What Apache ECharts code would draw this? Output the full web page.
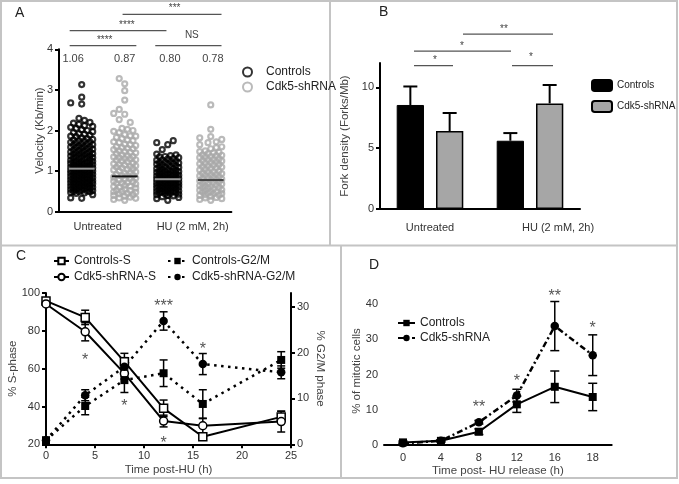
<!DOCTYPE html>
<html><head><meta charset="utf-8">
<script src="https://cdn.jsdelivr.net/npm/echarts@6/dist/echarts.min.js"></script>
<style>html,body{margin:0;padding:0;background:#fff}#c{width:679px;height:484px}</style>
</head><body><div id="c"></div>
<script>
// ================= DATA =================
// Panel A: fork velocity (Kb/min), one value per measured fork
const aCtrlUntreated = [0.33,0.34,0.42,0.45,0.47,0.5,0.5,0.52,0.53,0.55,0.56,0.58,0.6,0.6,0.62,0.63,0.65,0.66,0.68,0.7,0.7,0.72,0.74,0.75,0.77,0.78,0.8,0.8,0.82,0.84,0.85,0.87,0.88,0.9,0.9,0.92,0.94,0.95,0.97,0.98,1.0,1.0,1.02,1.03,1.05,1.06,1.08,1.1,1.1,1.12,1.14,1.15,1.17,1.18,1.2,1.22,1.24,1.25,1.27,1.3,1.32,1.34,1.36,1.38,1.4,1.42,1.44,1.46,1.48,1.5,1.52,1.55,1.57,1.6,1.62,1.65,1.68,1.7,1.72,1.75,1.78,1.8,1.85,1.88,1.92,1.95,2.0,2.05,2.08,2.1,2.12,2.15,2.18,2.2,2.25,2.3,2.65,2.68,2.82,3.13,
  0.46,0.49,0.51,0.54,0.59,0.61,0.64,0.67,0.71,0.73,0.76,0.79,0.83,0.86,0.89,0.93,0.96,0.99,1.01,1.04,1.07,1.11,1.13,1.16,1.19,1.21,1.23,1.26,1.29,1.31,1.35,1.37,1.41,1.43,1.47,1.51,1.54,1.58,1.61,1.64,1.67,1.71,1.74,1.77,1.82,1.86,1.91,1.97,2.02,0.57,0.69,0.81,0.91,1.09,1.19,1.33,1.45,1.59,0.74,0.96];
const aShUntreated = [0.28,0.3,0.33,0.36,0.38,0.4,0.42,0.45,0.48,0.5,0.52,0.55,0.58,0.6,0.62,0.65,0.68,0.7,0.72,0.75,0.78,0.8,0.82,0.85,0.88,0.9,0.92,0.95,0.98,1.0,1.03,1.05,1.08,1.1,1.13,1.15,1.18,1.2,1.23,1.25,1.28,1.3,1.33,1.35,1.38,1.4,1.43,1.45,1.48,1.5,1.53,1.55,1.58,1.6,1.63,1.65,1.7,1.72,1.75,1.8,1.83,1.87,1.9,1.95,1.98,2.0,2.03,2.05,2.2,2.27,2.4,2.42,2.52,2.75,2.98,3.15,3.28,
  0.34,0.44,0.53,0.63,0.74,0.83,0.94,1.06,1.16,1.27,1.36,1.46,1.56,1.66,1.77,1.86,0.49,0.71,0.89,1.11,1.31];
const aCtrlHU = [0.28,0.32,0.35,0.37,0.4,0.42,0.43,0.45,0.47,0.48,0.5,0.5,0.52,0.53,0.55,0.56,0.58,0.6,0.6,0.62,0.63,0.65,0.66,0.68,0.7,0.7,0.72,0.73,0.75,0.76,0.78,0.8,0.8,0.82,0.83,0.85,0.86,0.88,0.9,0.9,0.92,0.94,0.95,0.97,1.0,1.0,1.02,1.05,1.07,1.1,1.12,1.15,1.18,1.2,1.22,1.25,1.28,1.3,1.33,1.35,1.38,1.4,1.42,1.53,1.65,1.7,1.75,
  0.39,0.44,0.49,0.51,0.57,0.61,0.64,0.69,0.71,0.77,0.79,0.84,0.87,0.91,0.96,0.99,1.04,1.09,1.11,1.17,1.21,1.24,1.31,1.36,0.46,0.59,0.67,0.74,0.81,0.93,1.01,1.13,0.54,0.64,0.72,0.85,0.98,1.06,1.19,1.27];
const aShHU = [0.28,0.3,0.32,0.35,0.38,0.4,0.42,0.44,0.46,0.48,0.5,0.52,0.54,0.56,0.58,0.6,0.62,0.64,0.66,0.68,0.7,0.72,0.74,0.76,0.78,0.8,0.82,0.84,0.86,0.88,0.9,0.92,0.95,0.98,1.0,1.03,1.05,1.08,1.1,1.13,1.15,1.18,1.2,1.23,1.25,1.28,1.3,1.33,1.35,1.38,1.4,1.43,1.45,1.48,1.5,1.55,1.6,1.65,1.7,1.72,1.78,1.82,1.85,2.03,2.63,
  0.34,0.45,0.53,0.63,0.73,0.85,0.94,1.06,1.16,1.26,1.36,1.46,0.49,0.69,0.91,1.11,1.29,0.41,0.59,0.79,0.99,1.21,1.39,1.58];
const aMeans = [1.06, 0.87, 0.80, 0.78];
const aTreatments = ['Untreated', 'HU (2 mM, 2h)'];
const aSigLabels = ['****', '****', '***', 'NS'];

// Panel B: fork density (Forks/Mb)
const bCategories = ['Untreated', 'HU (2 mM, 2h)'];
const bControls = [8.55, 5.61];
const bControlsSD = [1.52, 0.63];
const bShRNA = [6.41, 8.68];
const bShRNASD = [1.48, 1.51];
const bSigLabels = ['*', '*', '**', '*'];

// Panel C: % S-phase (left) and % G2/M (right) vs time post-HU
const cTime = [0, 4, 8, 12, 16, 24];
const cCtrlS = [95.8, 87.1, 63.7, 39.0, 24.0, 34.5];
const cCtrlSErr = [1.0, 3.8, 4.4, 4.4, 0.8, 3.0];
const cShS = [94.2, 79.5, 57.5, 32.3, 29.8, 32.0];
const cShSErr = [1.0, 4.8, 3.0, 3.1, 3.8, 5.5];
const cCtrlG = [0.9, 8.35, 14.0, 15.5, 8.8, 18.4];
const cCtrlGErr = [0.3, 1.9, 2.7, 2.9, 3.1, 1.8];
const cShG = [0.9, 10.7, 16.9, 26.9, 17.5, 15.7];
const cShGErr = [0.3, 1.2, 2.0, 2.0, 2.3, 1.4];
const cSigLabels = ['***', '*', '*', '*', '*'];

// Panel D: % mitotic cells vs time post-HU release
const dTimes = ['0', '4', '8', '12', '16', '18'];
const dCtrl = [0.66, 1.1, 3.7, 11.5, 16.5, 13.6];
const dCtrlErr = [0.4, 0.3, 0.8, 2.3, 4.5, 3.9];
const dSh = [0.4, 1.1, 6.4, 14.0, 33.8, 25.5];
const dShErr = [0.3, 0.3, 0.5, 1.8, 7.0, 5.8];
const dSigLabels = ['**', '*', '**', '*'];

// ================= LAYOUT (annotation placement) =================
const aBracketPos = [[0.72,2.27,4.09,1.535,4.28],[0.72,2.97,4.46,2.05,4.65],[1.95,4.25,4.86,3.16,5.07],[2.71,4.25,4.09,3.56,4.35]];
const aMeanLabelX = [0.8, 2.0, 3.05, 4.05];
const aMeanLabelY = 3.76;
const aTreatmentX = [1.37, 3.58];
const bBracketPos = [[0.34,0.73,11.78,0.55,12.38],[0.34,1.31,12.98,0.82,13.6],[0.83,1.73,14.38,1.24,14.98],[1.32,1.73,11.78,1.51,12.65]];
const cSigPos = [[12,94.7],[4,66.2],[8,41.8],[12,22.3],[16,72]];
const dSigPos = [[2,11.6],[3,19],[4,43.2],[5,34.1]];

const FONT = 'Liberation Sans, Arial, sans-serif';
const strip = n => n.slice(2);

// beeswarm placement (pixel-based offsets converted to axis units)
function swarm(values, center) {
  const pxX = 43, pxY = 40.6, d = 6.8;
  const slots = [0, -5.5, 5.5, -11, 11, -2.75, 2.75, -8.25, 8.25];
  const placed = [];
  return values.slice().sort((a, b) => a - b).map(v => {
    const y = v * pxY;
    let best = 0, bestDist = -1;
    for (const s of slots) {
      let nd = Infinity;
      for (const p of placed) {
        if (Math.abs(p[1] - y) < 2 * d) { const dist = Math.hypot(p[0] - s, p[1] - y); if (dist < nd) nd = dist; }
      }
      if (nd >= d) { best = s; break; }
      if (nd > bestDist) { bestDist = nd; best = s; }
    }
    placed.push([best, y]);
    return [center + best / pxX, v];
  });
}

const axLine = {lineStyle: {color: '#000', width: 2}};
const axTick = {length: 4, lineStyle: {color: '#000', width: 2}};
const axLabel = {color: '#333', fontSize: 11, fontFamily: FONT, margin: 6};
const nameStyle = {color: '#444', fontSize: 11.5, fontFamily: FONT};

function errBars(capW, upOnly) {
  return (params, api) => {
    const x = api.value(0), m = api.value(1), e = api.value(2);
    const top = api.coord([x, m + e]);
    const bot = api.coord(upOnly ? [x, m] : [x, m - e]);
    const st = {stroke: '#000', lineWidth: upOnly ? 2 : 1.5};
    const ch = [
      {type: 'line', shape: {x1: top[0], y1: top[1], x2: bot[0], y2: bot[1]}, style: st},
      {type: 'line', shape: {x1: top[0] - capW / 2, y1: top[1], x2: top[0] + capW / 2, y2: top[1]}, style: st}
    ];
    if (!upOnly) ch.push({type: 'line', shape: {x1: bot[0] - capW / 2, y1: bot[1], x2: bot[0] + capW / 2, y2: bot[1]}, style: st});
    return {type: 'group', children: ch};
  };
}

function starText(text, p, fs, color) {
  return {type: 'text', style: {text: text, x: p[0], y: p[1] + fs * 0.23, textAlign: 'center', textVerticalAlign: 'middle', fontSize: fs, fontFamily: FONT, fill: color}};
}

function bracketRender(labels, fs) {
  return (params, api) => {
    const b = params.dataIndex;
    const p1 = api.coord([api.value(0), api.value(2)]);
    const p2 = api.coord([api.value(1), api.value(2)]);
    const t = api.coord([api.value(3), api.value(4)]);
    const lab = labels[b];
    const isStar = lab.indexOf('*') >= 0;
    return {type: 'group', children: [
      {type: 'line', shape: {x1: p1[0], y1: p1[1], x2: p2[0], y2: p2[1]}, style: {stroke: '#555', lineWidth: 1.3}},
      isStar ? starText(lab, t, fs, '#444') :
        {type: 'text', style: {text: lab, x: t[0], y: t[1], textAlign: 'center', textVerticalAlign: 'middle', fontSize: 10, fontFamily: FONT, fill: '#444'}}
    ]};
  };
}

const chart = echarts.init(document.getElementById('c'), null, {renderer: 'canvas'});
const meanColors = ['#9a9a9a', '#111', '#9a9a9a', '#444'];

// B bar geometry in band units for error bars
const bCatGap = 0.334, bBarGap = 0.44;
const bW = (1 - bCatGap) / (2 + bBarGap);
const bOff = bW * (1 + bBarGap) / 2;

const legendBase = {orient: 'vertical', selectedMode: false, padding: 0, formatter: strip};

const option = {
  animation: false,
  textStyle: {fontFamily: FONT},
  grid: [
    {left: 59, top: 49.3, width: 172.4, height: 162.4},
    {left: 380, top: 63, width: 200, height: 146},
    {left: 46, top: 293, width: 245, height: 151.3},
    {left: 384, top: 297.3, width: 227.7, height: 147.4}
  ],
  xAxis: [
    {gridIndex: 0, type: 'value', min: 0.472, max: 4.48, axisLine: axLine, axisTick: {show: false}, axisLabel: {show: false}, splitLine: {show: false}},
    {gridIndex: 1, type: 'category', data: [{value: bCategories[0]}, {value: bCategories[1], textStyle: {padding: [0, 0, 0, 56]}}],
      axisLine: axLine, axisTick: {show: false}, axisLabel: Object.assign({}, axLabel, {margin: 13})},
    {gridIndex: 1, type: 'value', min: 0, max: 2, show: false},
    {gridIndex: 2, type: 'value', min: 0, max: 25, interval: 5, axisLine: axLine, axisTick: axTick, axisLabel: axLabel, splitLine: {show: false},
      name: 'Time post-HU (h)', nameLocation: 'middle', nameGap: 20, nameMoveOverlap: false, nameTextStyle: nameStyle},
    {gridIndex: 3, type: 'category', data: dTimes, boundaryGap: true, axisLine: axLine, axisTick: Object.assign({alignWithLabel: true}, axTick),
      axisLabel: Object.assign({}, axLabel, {margin: 8}), name: 'Time post- HU release (h)', nameLocation: 'middle', nameGap: 20, nameMoveOverlap: false, nameTextStyle: nameStyle}
  ],
  yAxis: [
    {gridIndex: 0, type: 'value', min: 0, max: 4, interval: 1, axisLine: axLine, axisTick: axTick, axisLabel: axLabel, splitLine: {show: false},
      name: 'Velocity (Kb/min)', nameLocation: 'middle', nameGap: 13, nameMoveOverlap: false, nameTextStyle: nameStyle},
    {gridIndex: 1, type: 'value', min: 0, max: 12, axisLine: axLine, axisTick: Object.assign({customValues: [0, 5, 10]}, axTick),
      axisLabel: Object.assign({customValues: [0, 5, 10]}, axLabel), splitLine: {show: false},
      name: 'Fork density (Forks/Mb)', nameLocation: 'middle', nameGap: 29, nameMoveOverlap: false, nameTextStyle: nameStyle},
    {gridIndex: 2, type: 'value', min: 20, max: 100, interval: 20, axisLine: axLine, axisTick: axTick, axisLabel: axLabel, splitLine: {show: false},
      name: '% S-phase', nameLocation: 'middle', nameGap: 27.5, nameMoveOverlap: false, nameTextStyle: nameStyle},
    {gridIndex: 2, type: 'value', position: 'right', min: 0, max: 33, axisLine: axLine, axisTick: Object.assign({customValues: [0, 10, 20, 30]}, axTick),
      axisLabel: Object.assign({customValues: [0, 10, 20, 30]}, axLabel), splitLine: {show: false},
      name: '% G2/M phase', nameLocation: 'middle', nameRotate: -90, nameGap: 23, nameMoveOverlap: false, nameTextStyle: nameStyle},
    {gridIndex: 3, type: 'value', min: 0, max: 42, axisLine: axLine, axisTick: Object.assign({customValues: [0, 10, 20, 30, 40]}, axTick),
      axisLabel: Object.assign({customValues: [0, 10, 20, 30, 40]}, axLabel), splitLine: {show: false},
      name: '% of mitotic cells', nameLocation: 'middle', nameGap: 21, nameMoveOverlap: false, nameTextStyle: nameStyle}
  ],
  legend: [
    Object.assign({}, legendBase, {data: ['A:Controls', 'A:Cdk5-shRNA'], left: 242, top: 66, itemWidth: 9, itemHeight: 9, itemGap: 3,
      textStyle: {fontSize: 12, color: '#222', fontFamily: FONT, padding: [0, 0, 0, 9]}}),
    Object.assign({}, legendBase, {data: ['B:Controls', 'B:Cdk5-shRNA'], left: 591, top: 79, itemWidth: 20, itemHeight: 11, itemGap: 8,
      textStyle: {fontSize: 10, color: '#222', fontFamily: FONT}}),
    Object.assign({}, legendBase, {data: ['C:Controls-S', 'C:Cdk5-shRNA-S'], left: 53, top: 254, itemWidth: 15, itemHeight: 8, itemGap: 2,
      textStyle: {fontSize: 12, color: '#222', fontFamily: FONT, lineHeight: 14}}),
    Object.assign({}, legendBase, {data: ['C:Controls-G2/M', 'C:Cdk5-shRNA-G2/M'], left: 167, top: 254, itemWidth: 19, itemHeight: 8, itemGap: 2,
      textStyle: {fontSize: 12, color: '#222', fontFamily: FONT, lineHeight: 14}}),
    Object.assign({}, legendBase, {data: ['D:Controls', 'D:Cdk5-shRNA'], left: 397, top: 316, itemWidth: 17, itemHeight: 8, itemGap: 1,
      textStyle: {fontSize: 12, color: '#222', fontFamily: FONT, lineHeight: 14}})
  ],
  series: [
    // ---- A ----
    {type: 'scatter', name: 'A:Controls', xAxisIndex: 0, yAxisIndex: 0, symbol: 'circle', symbolSize: 5,
      itemStyle: {color: 'rgba(255,255,255,0)', borderColor: '#000', borderWidth: 2.2},
      data: swarm(aCtrlUntreated, 1).concat(swarm(aCtrlHU, 3))},
    {type: 'scatter', name: 'A:Cdk5-shRNA', xAxisIndex: 0, yAxisIndex: 0, symbol: 'circle', symbolSize: 5,
      itemStyle: {color: 'rgba(255,255,255,0)', borderColor: '#a9a9a9', borderWidth: 2.2},
      data: swarm(aShUntreated, 2).concat(swarm(aShHU, 4))},
    {type: 'custom', xAxisIndex: 0, yAxisIndex: 0, clip: false, z: 5, silent: true,
      data: aMeans.map((m, i) => [i + 1, m]),
      renderItem: (params, api) => {
        const i = params.dataIndex, x = api.value(0), m = api.value(1);
        const p1 = api.coord([x - 0.3, m]), p2 = api.coord([x + 0.3, m]);
        const lp = api.coord([aMeanLabelX[i], aMeanLabelY]);
        return {type: 'group', children: [
          {type: 'line', shape: {x1: p1[0], y1: p1[1], x2: p2[0], y2: p2[1]}, style: {stroke: meanColors[i], lineWidth: 2}},
          {type: 'text', style: {text: m.toFixed(2), x: lp[0], y: lp[1], textAlign: 'center', textVerticalAlign: 'middle', fontSize: 11, fontFamily: FONT, fill: '#444'}}
        ]};
      }},
    {type: 'custom', xAxisIndex: 0, yAxisIndex: 0, clip: false, silent: true, data: aBracketPos, renderItem: bracketRender(aSigLabels, 10)},
    {type: 'custom', xAxisIndex: 0, yAxisIndex: 0, clip: false, silent: true, data: aTreatmentX.map(x => [x, 0]),
      renderItem: (params, api) => {
        const p = api.coord([api.value(0), 0]);
        return {type: 'text', style: {text: aTreatments[params.dataIndex], x: p[0], y: p[1] + 15.5, textAlign: 'center', textVerticalAlign: 'middle', fontSize: 11, fontFamily: FONT, fill: '#333'}};
      }},
    // ---- B ----
    {type: 'bar', name: 'B:Controls', xAxisIndex: 1, yAxisIndex: 1, data: bControls, barGap: (bBarGap * 100) + '%', barCategoryGap: (bCatGap * 100) + '%',
      itemStyle: {color: '#000', borderColor: '#000', borderWidth: 1}},
    {type: 'bar', name: 'B:Cdk5-shRNA', xAxisIndex: 1, yAxisIndex: 1, data: bShRNA, barGap: (bBarGap * 100) + '%', barCategoryGap: (bCatGap * 100) + '%',
      itemStyle: {color: '#a6a6a6', borderColor: '#000', borderWidth: 1.5}},
    {type: 'custom', xAxisIndex: 2, yAxisIndex: 1, clip: false, silent: true, z: 3,
      data: bControls.map((v, i) => [i + 0.5 - bOff, v, bControlsSD[i]]).concat(bShRNA.map((v, i) => [i + 0.5 + bOff, v, bShRNASD[i]])),
      renderItem: errBars(14, true)},
    {type: 'custom', xAxisIndex: 2, yAxisIndex: 1, clip: false, silent: true, data: bBracketPos, renderItem: bracketRender(bSigLabels, 10)},
    // ---- C ----
    {type: 'custom', xAxisIndex: 3, yAxisIndex: 2, z: 1, silent: true, data: cTime.map((t, i) => [t, cCtrlS[i], cCtrlSErr[i]]), renderItem: errBars(8)},
    {type: 'custom', xAxisIndex: 3, yAxisIndex: 2, z: 1, silent: true, data: cTime.map((t, i) => [t, cShS[i], cShSErr[i]]), renderItem: errBars(8)},
    {type: 'custom', xAxisIndex: 3, yAxisIndex: 3, z: 1, silent: true, data: cTime.map((t, i) => [t, cCtrlG[i], cCtrlGErr[i]]), renderItem: errBars(8)},
    {type: 'custom', xAxisIndex: 3, yAxisIndex: 3, z: 1, silent: true, data: cTime.map((t, i) => [t, cShG[i], cShGErr[i]]), renderItem: errBars(8)},
    {type: 'line', name: 'C:Controls-S', xAxisIndex: 3, yAxisIndex: 2, data: cTime.map((t, i) => [t, cCtrlS[i]]), symbol: 'rect', symbolSize: 8,
      itemStyle: {color: '#fff', borderColor: '#000', borderWidth: 1.5}, lineStyle: {color: '#000', width: 2}},
    {type: 'line', name: 'C:Cdk5-shRNA-S', xAxisIndex: 3, yAxisIndex: 2, data: cTime.map((t, i) => [t, cShS[i]]), symbol: 'circle', symbolSize: 8,
      itemStyle: {color: '#fff', borderColor: '#000', borderWidth: 1.5}, lineStyle: {color: '#000', width: 2}},
    {type: 'line', name: 'C:Controls-G2/M', xAxisIndex: 3, yAxisIndex: 3, data: cTime.map((t, i) => [t, cCtrlG[i]]), symbol: 'rect', symbolSize: 8,
      itemStyle: {color: '#000', borderColor: '#000', borderWidth: 0}, lineStyle: {color: '#000', width: 2.5, type: [2.5, 4.5]}},
    {type: 'line', name: 'C:Cdk5-shRNA-G2/M', xAxisIndex: 3, yAxisIndex: 3, data: cTime.map((t, i) => [t, cShG[i]]), symbol: 'circle', symbolSize: 8.5,
      itemStyle: {color: '#000', borderColor: '#000', borderWidth: 0}, lineStyle: {color: '#000', width: 2.5, type: [2.5, 4.5]}},
    {type: 'custom', xAxisIndex: 3, yAxisIndex: 2, clip: false, silent: true, data: cSigPos,
      renderItem: (params, api) => starText(cSigLabels[params.dataIndex], api.coord([api.value(0), api.value(1)]), 16, '#555')},
    // ---- D ----
    {type: 'custom', xAxisIndex: 4, yAxisIndex: 4, z: 1, silent: true, data: dCtrl.map((v, i) => [i, v, dCtrlErr[i]]), renderItem: errBars(9)},
    {type: 'custom', xAxisIndex: 4, yAxisIndex: 4, z: 1, silent: true, data: dSh.map((v, i) => [i, v, dShErr[i]]), renderItem: errBars(9)},
    {type: 'line', name: 'D:Controls', xAxisIndex: 4, yAxisIndex: 4, data: dCtrl, symbol: 'rect', symbolSize: 8,
      itemStyle: {color: '#000'}, lineStyle: {color: '#000', width: 2}},
    {type: 'line', name: 'D:Cdk5-shRNA', xAxisIndex: 4, yAxisIndex: 4, data: dSh, symbol: 'circle', symbolSize: 8.5,
      itemStyle: {color: '#000'}, lineStyle: {color: '#000', width: 2.5, type: [6, 3, 2, 3]}},
    {type: 'custom', xAxisIndex: 4, yAxisIndex: 4, clip: false, silent: true, data: dSigPos,
      renderItem: (params, api) => starText(dSigLabels[params.dataIndex], api.coord([api.value(0), api.value(1)]), 16, '#555')}
  ],
  graphic: [
    {type: 'rect', shape: {x: 1, y: 1, width: 676, height: 477}, style: {fill: 'none', stroke: '#c4c4c4', lineWidth: 2}, z: -10, silent: true},
    {type: 'line', shape: {x1: 0, y1: 245.5, x2: 678, y2: 245.5}, style: {stroke: '#c4c4c4', lineWidth: 2}, silent: true},
    {type: 'line', shape: {x1: 330, y1: 0, x2: 330, y2: 245.5}, style: {stroke: '#c4c4c4', lineWidth: 2}, silent: true},
    {type: 'line', shape: {x1: 341, y1: 245.5, x2: 341, y2: 478}, style: {stroke: '#c4c4c4', lineWidth: 2}, silent: true},
    {type: 'text', style: {text: 'A', x: 15, y: 13, textVerticalAlign: 'middle', fontSize: 14, fontFamily: FONT, fill: '#222'}, silent: true},
    {type: 'text', style: {text: 'B', x: 379, y: 12, textVerticalAlign: 'middle', fontSize: 14, fontFamily: FONT, fill: '#222'}, silent: true},
    {type: 'text', style: {text: 'C', x: 16, y: 256, textVerticalAlign: 'middle', fontSize: 14, fontFamily: FONT, fill: '#222'}, silent: true},
    {type: 'text', style: {text: 'D', x: 369, y: 265, textVerticalAlign: 'middle', fontSize: 14, fontFamily: FONT, fill: '#222'}, silent: true}
  ]
};
chart.setOption(option);
</script>
</body></html>
